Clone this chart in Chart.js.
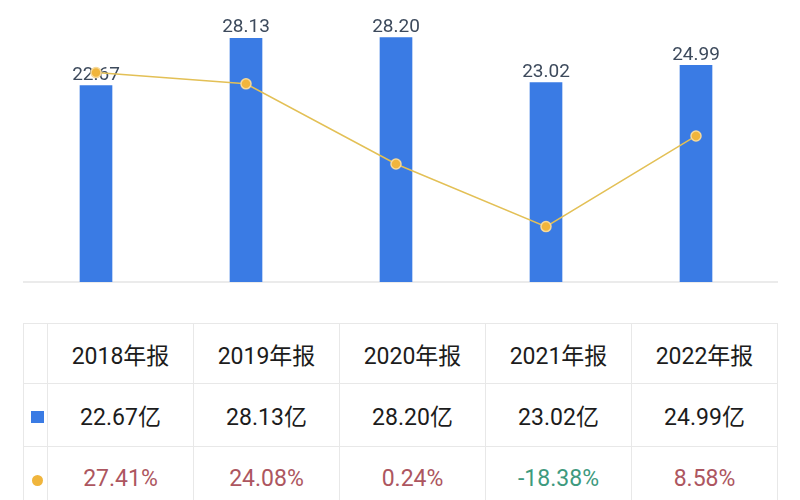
<!DOCTYPE html>
<html lang="zh">
<head>
    <meta charset="UTF-8">
    <title>年报</title>
    <script src="https://cdn.jsdelivr.net/npm/chart.js"></script>
    <style>
        body {
            margin: 0;
            width: 800px;
            height: 500px;
            overflow: hidden;
            background: #fff;
            font-family: Roboto, 'Noto Sans CJK SC', sans-serif;
        }
        .chart-box {
            position: absolute;
            left: 0;
            top: 0;
            width: 800px;
            height: 300px;
        }
        table {
            position: absolute;
            left: 23px;
            top: 323px;
            border-collapse: collapse;
            table-layout: fixed;
            font-size: 23px;
        }
        td {
            border: 1px solid #e8e8e8;
            text-align: center;
            padding: 0;
            color: #1c1c1c;
        }
        td.icon { width: 23px; }
        td.col { width: 145px; }
        tr.head td { height: 59px; }
        tr.val td { height: 62px; }
        tr.pct td { height: 62px; }
        .sq {
            display: inline-block; width: 13px; height: 12px;
            background: #3a7be4; margin-left: 3px;
        }
        .dot {
            display: inline-block; width: 11px; height: 11px;
            border-radius: 50%; background: #f0b53c; margin-left: 3px;
        }
    </style>
</head>
<body>
    <div class="chart-box"><canvas id="chart"></canvas></div>
    <table id="tbl"></table>

    <script>
        const categories = ['2018年报', '2019年报', '2020年报', '2021年报', '2022年报'];
        const revenue = [22.67, 28.13, 28.20, 23.02, 24.99];   // 亿
        const growth = [27.41, 24.08, 0.24, -18.38, 8.58];      // %

        // bar value labels + baseline
        const labelPlugin = {
            id: 'labels',
            beforeDatasetsDraw(chart) {
                const ctx = chart.ctx;
                const y = chart.scales.y;
                const area = chart.chartArea;
                ctx.save();
                ctx.strokeStyle = '#e4e4e4';
                ctx.lineWidth = 1.5;
                ctx.beginPath();
                ctx.moveTo(area.left + 2, y.getPixelForValue(0));
                ctx.lineTo(area.right + 7, y.getPixelForValue(0));
                ctx.stroke();

                const meta = chart.getDatasetMeta(0);
                ctx.font = '19px Roboto, sans-serif';
                ctx.fillStyle = '#3d4a5c';
                ctx.textAlign = 'center';
                ctx.textBaseline = 'bottom';
                meta.data.forEach((bar, i) => {
                    ctx.fillText(revenue[i].toFixed(2), bar.x, bar.y - 1);
                });
                ctx.restore();
            }
        };

        new Chart(document.getElementById('chart').getContext('2d'), {
            data: {
                labels: categories,
                datasets: [{
                    type: 'bar',
                    data: revenue,
                    backgroundColor: '#3a7be4',
                    barThickness: 32,
                    yAxisID: 'y',
                    order: 1
                }, {
                    type: 'line',
                    data: growth,
                    borderColor: '#e3c056',
                    borderWidth: 1.5,
                    pointRadius: 5,
                    pointBackgroundColor: '#f0b53c',
                    pointBorderColor: '#f6d99a',
                    pointBorderWidth: 1.5,
                    yAxisID: 'y1',
                    order: 0
                }]
            },
            options: {
                responsive: true,
                maintainAspectRatio: false,
                animation: false,
                layout: { padding: { left: 21, right: 29, top: 22, bottom: 18 } },
                plugins: { legend: { display: false }, tooltip: { enabled: false } },
                scales: {
                    x: { display: false, offset: true },
                    y: { display: false, min: 0, max: 30 },
                    y1: { display: false, min: -34.85, max: 42.46 }
                }
            },
            plugins: [labelPlugin]
        });

        // table under the chart
        const tbl = document.getElementById('tbl');
        let html = '<tr class="head"><td class="icon"></td>';
        categories.forEach(c => { html += '<td class="col">' + c + '</td>'; });
        html += '</tr><tr class="val"><td class="icon"><span class="sq"></span></td>';
        revenue.forEach(v => { html += '<td>' + v.toFixed(2) + '亿</td>'; });
        html += '</tr><tr class="pct"><td class="icon"><span class="dot"></span></td>';
        growth.forEach(v => {
            const color = v < 0 ? '#3e9a7e' : '#ad5660';
            html += '<td style="color:' + color + '">' + v.toFixed(2) + '%</td>';
        });
        html += '</tr>';
        tbl.innerHTML = html;
    </script>
</body>
</html>
